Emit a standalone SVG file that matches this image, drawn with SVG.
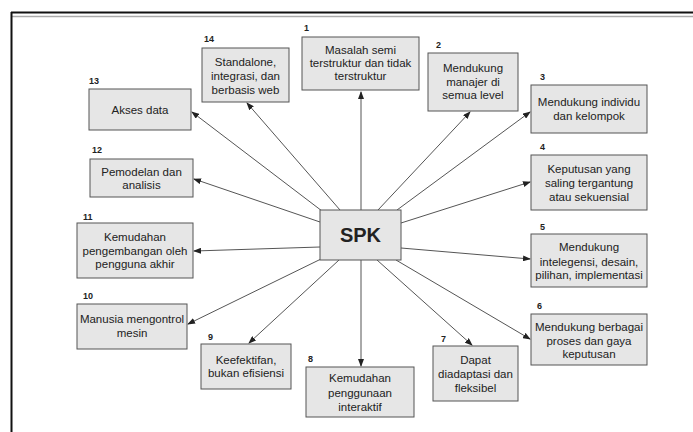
<svg xmlns="http://www.w3.org/2000/svg" width="693" height="432" viewBox="0 0 693 432">
<defs>
<marker id="ah" markerWidth="8" markerHeight="6" refX="7" refY="3" orient="auto" markerUnits="userSpaceOnUse">
<path d="M0,0 L8,3 L0,6 Z" fill="#222"/>
</marker>
</defs>
<style>
.box{fill:#e6e6e6;stroke:#555;stroke-width:1}
.t{font-family:"Liberation Sans",Arial,sans-serif;font-size:11.5px;fill:#222;text-anchor:middle}
.n{font-family:"Liberation Sans",Arial,sans-serif;font-size:9px;font-weight:bold;fill:#222}
.c line{stroke:#555;stroke-width:1;marker-end:url(#ah)}
</style>
<rect x="0" y="0" width="693" height="432" fill="#fff"/>
<g id="frame">
<line x1="11" y1="12.5" x2="693" y2="12.5" stroke="#111" stroke-width="2"/>
<line x1="12" y1="16.5" x2="693" y2="16.5" stroke="#aaa" stroke-width="1.5"/>
<line x1="11.5" y1="12" x2="11.5" y2="432" stroke="#111" stroke-width="2"/>
</g>
<g id="connectors" class="c">
<line x1="361" y1="210" x2="361" y2="92"/>
<line x1="378" y1="210" x2="470" y2="112"/>
<line x1="397" y1="210" x2="530" y2="112"/>
<line x1="401" y1="223" x2="530" y2="182"/>
<line x1="401" y1="248" x2="530" y2="259"/>
<line x1="396" y1="260" x2="530" y2="339"/>
<line x1="377" y1="260" x2="472" y2="345"/>
<line x1="361" y1="260" x2="361" y2="366"/>
<line x1="339" y1="260" x2="249" y2="343"/>
<line x1="321" y1="259" x2="188" y2="324"/>
<line x1="320" y1="247" x2="194" y2="251"/>
<line x1="320" y1="222" x2="194" y2="179"/>
<line x1="322" y1="211" x2="192" y2="112"/>
<line x1="340" y1="210" x2="247" y2="103"/>
</g>
<g id="spk">
<rect class="box" x="320" y="210" width="81" height="50"/>
<text x="360.5" y="242" font-family="Liberation Sans,Arial,sans-serif" font-size="20" font-weight="bold" fill="#222" text-anchor="middle">SPK</text>
</g>
<g id="n1">
<text class="n" x="304" y="31">1</text>
<rect class="box" x="302" y="37" width="117" height="53"/>
<text class="t" x="360.5" y="54">Masalah semi</text>
<text class="t" x="360.5" y="67">terstruktur dan tidak</text>
<text class="t" x="360.5" y="80">terstruktur</text>
</g>
<g id="n2">
<text class="n" x="436" y="48">2</text>
<rect class="box" x="428" y="53" width="90" height="58"/>
<text class="t" x="473" y="72">Mendukung</text>
<text class="t" x="473" y="86">manajer di</text>
<text class="t" x="473" y="99">semua level</text>
</g>
<g id="n3">
<text class="n" x="540" y="80">3</text>
<rect class="box" x="531" y="85" width="116" height="48"/>
<text class="t" x="589" y="106">Mendukung individu</text>
<text class="t" x="589" y="120">dan kelompok</text>
</g>
<g id="n4">
<text class="n" x="540" y="150">4</text>
<rect class="box" x="531" y="155" width="116" height="55"/>
<text class="t" x="589" y="173">Keputusan yang</text>
<text class="t" x="589" y="187">saling tergantung</text>
<text class="t" x="589" y="201">atau sekuensial</text>
</g>
<g id="n5">
<text class="n" x="540" y="230">5</text>
<rect class="box" x="531" y="234" width="116" height="53"/>
<text class="t" x="589" y="251">Mendukung</text>
<text class="t" x="589" y="266">intelegensi, desain,</text>
<text class="t" x="589" y="279">pilihan, implementasi</text>
</g>
<g id="n6">
<text class="n" x="537" y="309">6</text>
<rect class="box" x="531" y="314" width="116" height="51"/>
<text class="t" x="589" y="331">Mendukung berbagai</text>
<text class="t" x="589" y="345">proses dan gaya</text>
<text class="t" x="589" y="358">keputusan</text>
</g>
<g id="n7">
<text class="n" x="441" y="342">7</text>
<rect class="box" x="433" y="346" width="85" height="55"/>
<text class="t" x="475.5" y="364">Dapat</text>
<text class="t" x="475.5" y="378">diadaptasi dan</text>
<text class="t" x="475.5" y="392">fleksibel</text>
</g>
<g id="n8">
<text class="n" x="308" y="362">8</text>
<rect class="box" x="306" y="367" width="108" height="50"/>
<text class="t" x="360" y="382">Kemudahan</text>
<text class="t" x="360" y="397">penggunaan</text>
<text class="t" x="360" y="411">interaktif</text>
</g>
<g id="n9">
<text class="n" x="208" y="340">9</text>
<rect class="box" x="201" y="344" width="90" height="45"/>
<text class="t" x="246" y="364">Keefektifan,</text>
<text class="t" x="246" y="377">bukan efisiensi</text>
</g>
<g id="n10">
<text class="n" x="83" y="299">10</text>
<rect class="box" x="77" y="304" width="110" height="45"/>
<text class="t" x="132" y="323">Manusia mengontrol</text>
<text class="t" x="132" y="337">mesin</text>
</g>
<g id="n11">
<text class="n" x="83" y="220">11</text>
<rect class="box" x="77" y="223" width="116" height="55"/>
<text class="t" x="135" y="241">Kemudahan</text>
<text class="t" x="135" y="255">pengembangan oleh</text>
<text class="t" x="135" y="268">pengguna akhir</text>
</g>
<g id="n12">
<text class="n" x="92" y="153">12</text>
<rect class="box" x="90" y="159" width="103" height="38"/>
<text class="t" x="141.5" y="176">Pemodelan dan</text>
<text class="t" x="141.5" y="189">analisis</text>
</g>
<g id="n13">
<text class="n" x="89" y="84">13</text>
<rect class="box" x="89" y="89" width="102" height="41"/>
<text class="t" x="140" y="114">Akses data</text>
</g>
<g id="n14">
<text class="n" x="204" y="42">14</text>
<rect class="box" x="202" y="48" width="87" height="54"/>
<text class="t" x="245.5" y="66">Standalone,</text>
<text class="t" x="245.5" y="80">integrasi, dan</text>
<text class="t" x="245.5" y="94">berbasis web</text>
</g>
</svg>
